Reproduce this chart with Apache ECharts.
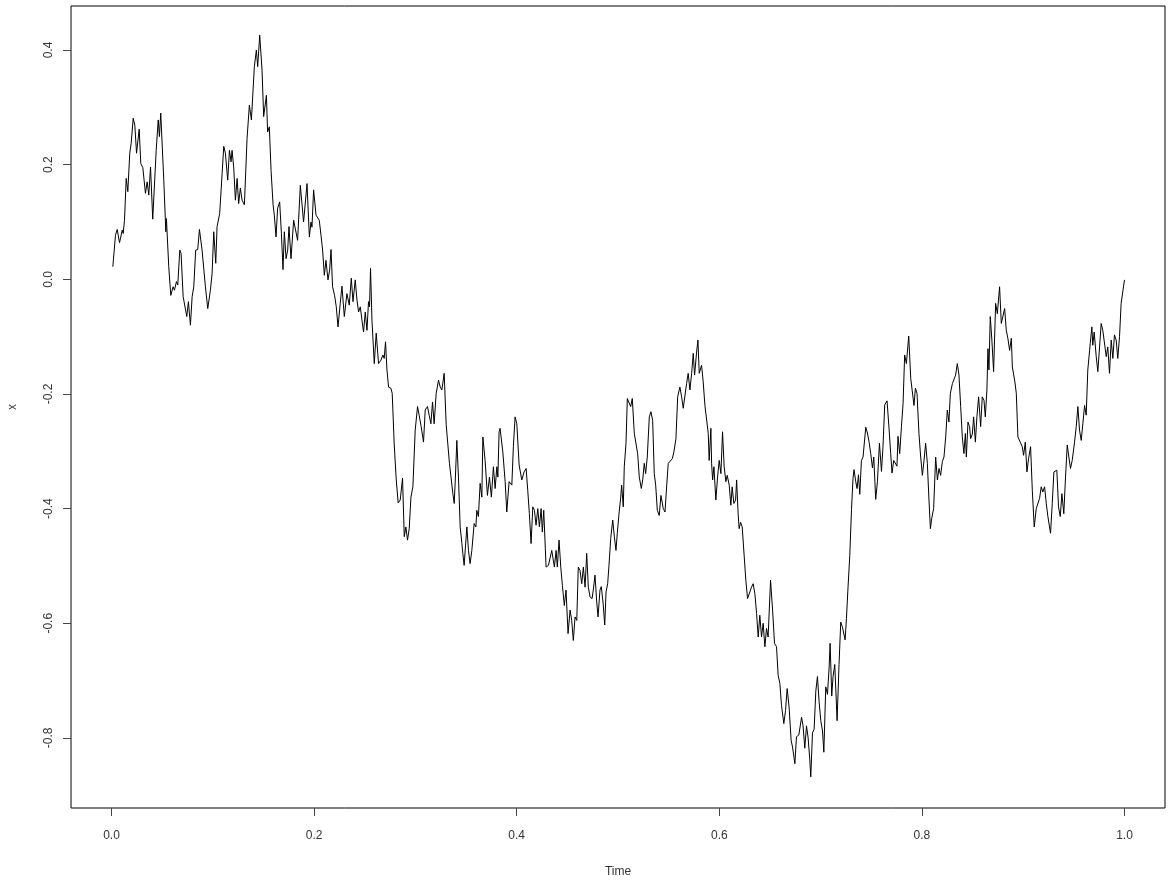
<!DOCTYPE html>
<html>
<head>
<meta charset="utf-8">
<script src="https://cdn.jsdelivr.net/npm/echarts@6/dist/echarts.min.js"></script>
<style>
  html, body { margin: 0; padding: 0; background: #fff; }
  #chart { width: 1168px; height: 886px; }
</style>
</head>
<body>
<div id="chart"></div>
<script>
// 随机游走路径 [时间, 值]，从图上逐段读出
const walk = [
  [0.0013, 0.022], [0.0039, 0.077], [0.0056, 0.087], [0.0079, 0.064], [0.0106, 0.086], [0.0115, 0.080],
  [0.0128, 0.103], [0.0145, 0.176], [0.0161, 0.153], [0.0180, 0.220], [0.0194, 0.237], [0.0214, 0.281],
  [0.0230, 0.269], [0.0247, 0.220], [0.0273, 0.262], [0.0289, 0.202], [0.0309, 0.195], [0.0319, 0.192],
  [0.0335, 0.150], [0.0352, 0.170], [0.0368, 0.147], [0.0385, 0.196], [0.0407, 0.105], [0.0441, 0.225],
  [0.0461, 0.278], [0.0473, 0.249], [0.0486, 0.290], [0.0516, 0.173], [0.0536, 0.083], [0.0542, 0.106],
  [0.0565, 0.022], [0.0585, -0.028], [0.0608, -0.013], [0.0621, -0.019], [0.0641, -0.004], [0.0654, -0.010],
  [0.0674, 0.051], [0.0687, 0.045], [0.0707, -0.030], [0.0723, -0.029], [0.0743, -0.065], [0.0759, -0.039],
  [0.0779, -0.080], [0.0796, -0.030], [0.0812, -0.013], [0.0831, 0.051], [0.0851, 0.052], [0.0868, 0.087],
  [0.0894, 0.051], [0.0910, 0.051], [0.0927, -0.013], [0.0950, -0.051], [0.0976, -0.019], [0.0993, 0.010],
  [0.1009, 0.083], [0.1029, 0.028], [0.1042, 0.092], [0.1068, 0.115], [0.1092, 0.185], [0.1108, 0.232],
  [0.1124, 0.220], [0.1147, 0.173], [0.1164, 0.225], [0.1180, 0.205], [0.1190, 0.225], [0.1206, 0.196],
  [0.1223, 0.138], [0.1240, 0.176], [0.1255, 0.132], [0.1272, 0.159], [0.1289, 0.138], [0.1312, 0.130],
  [0.1338, 0.246], [0.1361, 0.304], [0.1381, 0.278], [0.1410, 0.371], [0.1430, 0.400], [0.1443, 0.371],
  [0.1463, 0.426], [0.1486, 0.365], [0.1502, 0.284], [0.1529, 0.321], [0.1541, 0.257], [0.1558, 0.266],
  [0.1575, 0.190], [0.1595, 0.130], [0.1607, 0.112], [0.1624, 0.074], [0.1640, 0.124], [0.1660, 0.135],
  [0.1677, 0.080], [0.1693, 0.017], [0.1706, 0.083], [0.1723, 0.036], [0.1739, 0.051], [0.1752, 0.092],
  [0.1772, 0.036], [0.1798, 0.103], [0.1815, 0.100], [0.1837, 0.068], [0.1864, 0.164], [0.1896, 0.100],
  [0.1930, 0.167], [0.1953, 0.074], [0.1969, 0.100], [0.1979, 0.091], [0.1995, 0.156], [0.2019, 0.112],
  [0.2035, 0.115], [0.2051, 0.103], [0.2068, 0.077], [0.2084, 0.051], [0.2101, 0.007], [0.2117, 0.033],
  [0.2137, -0.001], [0.2153, 0.016], [0.2167, 0.052], [0.2182, -0.013], [0.2202, -0.028], [0.2219, -0.048],
  [0.2236, -0.083], [0.2258, -0.042], [0.2275, -0.012], [0.2298, -0.065], [0.2324, -0.025], [0.2347, -0.045],
  [0.2367, 0.002], [0.2384, -0.039], [0.2406, -0.001], [0.2423, -0.036], [0.2439, -0.057], [0.2456, -0.048],
  [0.2472, -0.071], [0.2488, -0.092], [0.2505, -0.057], [0.2522, -0.089], [0.2537, -0.039], [0.2547, -0.048],
  [0.2557, 0.019], [0.2571, -0.071], [0.2594, -0.147], [0.2613, -0.094], [0.2636, -0.147], [0.2660, -0.141],
  [0.2679, -0.132], [0.2692, -0.138], [0.2705, -0.109], [0.2719, -0.158], [0.2735, -0.188], [0.2758, -0.190],
  [0.2771, -0.199], [0.2791, -0.289], [0.2811, -0.350], [0.2830, -0.390], [0.2850, -0.385], [0.2873, -0.347],
  [0.2890, -0.449], [0.2906, -0.432], [0.2922, -0.455], [0.2939, -0.435], [0.2956, -0.380], [0.2975, -0.362],
  [0.2998, -0.263], [0.3021, -0.222], [0.3037, -0.237], [0.3057, -0.257], [0.3080, -0.284], [0.3097, -0.228],
  [0.3119, -0.222], [0.3136, -0.237], [0.3153, -0.252], [0.3169, -0.214], [0.3185, -0.252], [0.3205, -0.199],
  [0.3228, -0.176], [0.3245, -0.188], [0.3261, -0.193], [0.3284, -0.164], [0.3304, -0.254], [0.3320, -0.251],
  [0.3336, -0.321], [0.3353, -0.321], [0.3370, -0.374], [0.3383, -0.391], [0.3395, -0.345], [0.3409, -0.281],
  [0.3425, -0.345], [0.3442, -0.432], [0.3459, -0.461], [0.3468, -0.478], [0.3481, -0.499], [0.3494, -0.467],
  [0.3508, -0.432], [0.3524, -0.473], [0.3540, -0.496], [0.3557, -0.473], [0.3580, -0.426], [0.3597, -0.432],
  [0.3606, -0.403], [0.3622, -0.414], [0.3639, -0.356], [0.3656, -0.380], [0.3666, -0.275], [0.3688, -0.316],
  [0.3711, -0.377], [0.3731, -0.345], [0.3750, -0.380], [0.3770, -0.327], [0.3787, -0.365], [0.3804, -0.327],
  [0.3814, -0.345], [0.3826, -0.266], [0.3836, -0.260], [0.3863, -0.301], [0.3886, -0.353], [0.3902, -0.406],
  [0.3925, -0.353], [0.3952, -0.359], [0.3967, -0.292], [0.3984, -0.240], [0.4001, -0.252], [0.4024, -0.324],
  [0.4050, -0.350], [0.4073, -0.336], [0.4093, -0.330], [0.4109, -0.368], [0.4125, -0.409], [0.4142, -0.461],
  [0.4159, -0.397], [0.4175, -0.403], [0.4191, -0.429], [0.4208, -0.400], [0.4224, -0.432], [0.4241, -0.400],
  [0.4253, -0.441], [0.4267, -0.403], [0.4290, -0.502], [0.4313, -0.499], [0.4329, -0.502], [0.4346, -0.473],
  [0.4362, -0.475], [0.4372, -0.502], [0.4389, -0.473], [0.4401, -0.502], [0.4418, -0.455], [0.4435, -0.502],
  [0.4451, -0.534], [0.4470, -0.569], [0.4487, -0.542], [0.4507, -0.618], [0.4527, -0.577], [0.4543, -0.595],
  [0.4559, -0.630], [0.4576, -0.589], [0.4593, -0.595], [0.4608, -0.502], [0.4625, -0.508], [0.4642, -0.531],
  [0.4658, -0.502], [0.4675, -0.537], [0.4691, -0.478], [0.4707, -0.537], [0.4724, -0.554], [0.4744, -0.557],
  [0.4756, -0.542], [0.4773, -0.516], [0.4790, -0.563], [0.4803, -0.589], [0.4822, -0.542], [0.4835, -0.536],
  [0.4852, -0.563], [0.4869, -0.603], [0.4882, -0.545], [0.4898, -0.531], [0.4911, -0.499], [0.4928, -0.452],
  [0.4948, -0.420], [0.4964, -0.449], [0.4980, -0.473], [0.4993, -0.443], [0.5010, -0.409], [0.5027, -0.380],
  [0.5036, -0.359], [0.5052, -0.397], [0.5062, -0.327], [0.5079, -0.286], [0.5092, -0.208], [0.5108, -0.205],
  [0.5125, -0.222], [0.5141, -0.208], [0.5161, -0.269], [0.5178, -0.266], [0.5194, -0.304], [0.5210, -0.345],
  [0.5230, -0.365], [0.5244, -0.350], [0.5259, -0.321], [0.5273, -0.339], [0.5289, -0.310], [0.5309, -0.240],
  [0.5325, -0.231], [0.5342, -0.246], [0.5358, -0.339], [0.5372, -0.359], [0.5388, -0.403], [0.5407, -0.412],
  [0.5424, -0.377], [0.5437, -0.375], [0.5447, -0.400], [0.5464, -0.406], [0.5480, -0.362], [0.5496, -0.321],
  [0.5513, -0.318], [0.5536, -0.313], [0.5552, -0.301], [0.5572, -0.278], [0.5589, -0.205], [0.5611, -0.188],
  [0.5628, -0.205], [0.5644, -0.225], [0.5661, -0.225], [0.5677, -0.182], [0.5693, -0.164], [0.5710, -0.193],
  [0.5727, -0.164], [0.5743, -0.129], [0.5756, -0.167], [0.5776, -0.127], [0.5789, -0.106], [0.5802, -0.164],
  [0.5825, -0.150], [0.5841, -0.179], [0.5858, -0.220], [0.5875, -0.217], [0.5891, -0.269], [0.5900, -0.316],
  [0.5917, -0.260], [0.5924, -0.321], [0.5934, -0.350], [0.5947, -0.327], [0.5966, -0.385], [0.5983, -0.345],
  [0.5999, -0.316], [0.6016, -0.339], [0.6032, -0.266], [0.6048, -0.327], [0.6065, -0.353], [0.6078, -0.342],
  [0.6098, -0.359], [0.6114, -0.394], [0.6127, -0.362], [0.6144, -0.391], [0.6161, -0.385], [0.6171, -0.350],
  [0.6186, -0.409], [0.6196, -0.435], [0.6210, -0.424], [0.6226, -0.432], [0.6245, -0.481], [0.6262, -0.525],
  [0.6279, -0.557], [0.6295, -0.554], [0.6318, -0.537], [0.6334, -0.531], [0.6351, -0.548], [0.6368, -0.583],
  [0.6384, -0.624], [0.6400, -0.586], [0.6417, -0.624], [0.6433, -0.600], [0.6450, -0.641], [0.6466, -0.609],
  [0.6482, -0.624], [0.6506, -0.525], [0.6526, -0.577], [0.6545, -0.635], [0.6565, -0.641], [0.6581, -0.691],
  [0.6598, -0.705], [0.6614, -0.743], [0.6637, -0.775], [0.6654, -0.752], [0.6670, -0.714], [0.6689, -0.746],
  [0.6709, -0.804], [0.6723, -0.816], [0.6746, -0.845], [0.6762, -0.798], [0.6785, -0.795], [0.6812, -0.764],
  [0.6827, -0.779], [0.6844, -0.818], [0.6861, -0.779], [0.6877, -0.800], [0.6893, -0.837], [0.6903, -0.868],
  [0.6920, -0.791], [0.6936, -0.785], [0.6953, -0.718], [0.6969, -0.693], [0.6985, -0.736], [0.7002, -0.770],
  [0.7019, -0.788], [0.7032, -0.825], [0.7051, -0.711], [0.7068, -0.724], [0.7084, -0.678], [0.7094, -0.635],
  [0.7110, -0.727], [0.7123, -0.693], [0.7140, -0.672], [0.7163, -0.770], [0.7182, -0.672], [0.7199, -0.598],
  [0.7216, -0.607], [0.7242, -0.629], [0.7255, -0.592], [0.7271, -0.537], [0.7288, -0.482], [0.7305, -0.402],
  [0.7320, -0.347], [0.7330, -0.332], [0.7347, -0.353], [0.7360, -0.365], [0.7374, -0.341], [0.7387, -0.375],
  [0.7403, -0.316], [0.7419, -0.310], [0.7446, -0.258], [0.7462, -0.268], [0.7478, -0.283], [0.7495, -0.304],
  [0.7512, -0.329], [0.7525, -0.310], [0.7544, -0.384], [0.7561, -0.353], [0.7581, -0.286], [0.7601, -0.335],
  [0.7616, -0.292], [0.7633, -0.219], [0.7656, -0.212], [0.7676, -0.261], [0.7692, -0.304], [0.7705, -0.338],
  [0.7722, -0.316], [0.7754, -0.326], [0.7764, -0.274], [0.7781, -0.304], [0.7798, -0.257], [0.7814, -0.217],
  [0.7830, -0.132], [0.7847, -0.147], [0.7870, -0.099], [0.7890, -0.173], [0.7906, -0.176], [0.7922, -0.220],
  [0.7936, -0.190], [0.7952, -0.199], [0.7971, -0.269], [0.7988, -0.310], [0.8005, -0.342], [0.8021, -0.316],
  [0.8037, -0.286], [0.8054, -0.321], [0.8070, -0.385], [0.8084, -0.435], [0.8097, -0.417], [0.8116, -0.400],
  [0.8136, -0.310], [0.8153, -0.350], [0.8169, -0.330], [0.8185, -0.342], [0.8202, -0.318], [0.8218, -0.310],
  [0.8235, -0.275], [0.8251, -0.228], [0.8267, -0.249], [0.8281, -0.199], [0.8301, -0.182], [0.8317, -0.180],
  [0.8333, -0.167], [0.8350, -0.147], [0.8366, -0.167], [0.8383, -0.222], [0.8399, -0.275], [0.8415, -0.304],
  [0.8429, -0.269], [0.8439, -0.310], [0.8455, -0.249], [0.8471, -0.257], [0.8481, -0.278], [0.8498, -0.270],
  [0.8511, -0.240], [0.8528, -0.284], [0.8543, -0.240], [0.8560, -0.205], [0.8580, -0.257], [0.8596, -0.205],
  [0.8613, -0.211], [0.8626, -0.240], [0.8642, -0.193], [0.8652, -0.121], [0.8662, -0.158], [0.8675, -0.065],
  [0.8691, -0.106], [0.8708, -0.161], [0.8728, -0.042], [0.8745, -0.060], [0.8767, -0.013], [0.8784, -0.077],
  [0.8800, -0.078], [0.8817, -0.051], [0.8833, -0.089], [0.8849, -0.103], [0.8866, -0.124], [0.8883, -0.103],
  [0.8893, -0.153], [0.8905, -0.155], [0.8918, -0.179], [0.8932, -0.199], [0.8948, -0.275], [0.8971, -0.284],
  [0.8991, -0.292], [0.9004, -0.307], [0.9021, -0.284], [0.9037, -0.336], [0.9053, -0.313], [0.9073, -0.292],
  [0.9090, -0.368], [0.9109, -0.432], [0.9129, -0.400], [0.9145, -0.400], [0.9162, -0.382], [0.9178, -0.362],
  [0.9194, -0.371], [0.9211, -0.362], [0.9228, -0.391], [0.9244, -0.414], [0.9260, -0.416], [0.9270, -0.443],
  [0.9287, -0.391], [0.9303, -0.336], [0.9320, -0.338], [0.9332, -0.333], [0.9349, -0.397], [0.9366, -0.414],
  [0.9382, -0.374], [0.9401, -0.409], [0.9418, -0.345], [0.9435, -0.289], [0.9451, -0.310], [0.9467, -0.330],
  [0.9484, -0.316], [0.9507, -0.284], [0.9524, -0.257], [0.9540, -0.222], [0.9556, -0.263], [0.9573, -0.281],
  [0.9589, -0.252], [0.9606, -0.220], [0.9622, -0.237], [0.9638, -0.158], [0.9662, -0.112], [0.9678, -0.083],
  [0.9687, -0.115], [0.9701, -0.092], [0.9721, -0.135], [0.9737, -0.161], [0.9754, -0.118], [0.9770, -0.077],
  [0.9786, -0.089], [0.9803, -0.089], [0.9820, -0.135], [0.9835, -0.118], [0.9852, -0.164], [0.9869, -0.106],
  [0.9885, -0.138], [0.9901, -0.097], [0.9918, -0.106], [0.9934, -0.138], [0.9951, -0.100], [0.9967, -0.042],
  [0.9983, -0.022], [1.0000, -0.001]
];

// 刻度
const xTicks = [0.0, 0.2, 0.4, 0.6, 0.8, 1.0];
const yTicks = [-0.8, -0.6, -0.4, -0.2, 0.0, 0.2, 0.4];

const chart = echarts.init(document.getElementById("chart"), null, { renderer: "canvas" });

const labelColor = "#333";
const font = "'Liberation Sans', Arial, sans-serif";

const option = {
  animation: false,
  backgroundColor: "#fff",
  grid: {
    left: 71,
    right: 3,
    top: 6,
    bottom: 78,
    // 不让 v6 自动收缩绘图区
    outerBoundsMode: "none",
    containLabel: false,
    show: true,
    borderColor: "#000",
    borderWidth: 1,
  },
  xAxis: {
    type: "value",
    min: -0.04,
    max: 1.04,
    name: "Time",
    nameLocation: "middle",
    nameGap: 58,
    nameTextStyle: { color: labelColor, fontSize: 12, fontFamily: font },
    axisLine: { show: false, onZero: false },
    splitLine: { show: false },
    axisTick: {
      show: true,
      length: 8,
      customValues: xTicks,
      lineStyle: { color: "#444" },
    },
    axisLabel: {
      customValues: xTicks,
      margin: 22,
      color: labelColor,
      fontSize: 12,
      fontFamily: font,
      formatter: (v) => v.toFixed(1),
    },
  },
  yAxis: {
    type: "value",
    min: -0.9223,
    max: 0.4768,
    name: "x",
    nameLocation: "middle",
    nameGap: 52,
    nameRotate: 90,
    nameTextStyle: { color: labelColor, fontSize: 12, fontFamily: font },
    axisLine: { show: false, onZero: false },
    splitLine: { show: false },
    axisTick: {
      show: true,
      length: 8,
      customValues: yTicks,
      lineStyle: { color: "#444" },
    },
    axisLabel: {
      customValues: yTicks,
      rotate: 90,
      margin: 16,
      color: labelColor,
      fontSize: 12,
      fontFamily: font,
      formatter: (v) => v.toFixed(1),
    },
  },
  series: [
    {
      type: "line",
      data: walk,
      showSymbol: false,
      symbol: "none",
      smooth: false,
      lineStyle: { color: "#000", width: 1 },
    },
  ],
};

chart.setOption(option);
</script>
</body>
</html>
